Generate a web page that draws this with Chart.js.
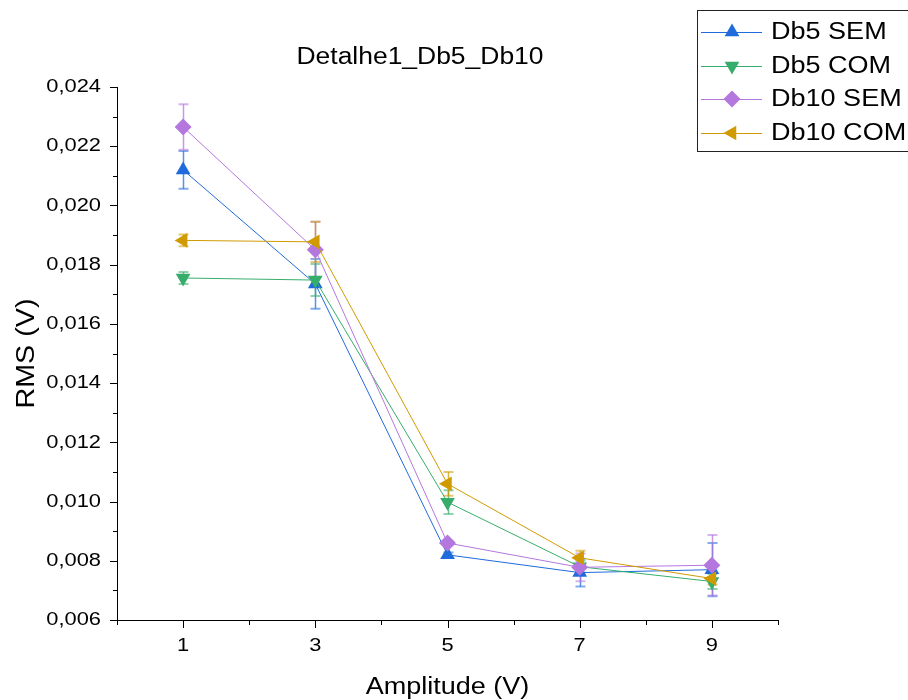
<!DOCTYPE html>
<html>
<head>
<meta charset="utf-8">
<script src="https://cdn.jsdelivr.net/npm/chart.js@4"></script>
<style>
  html, body { margin: 0; padding: 0; background: #fff; }
</style>
</head>
<body>
<canvas id="c" width="908" height="700"></canvas>
<script>
// Amplitude steps (V)
const amplitudes = [1, 3, 5, 7, 9];

// RMS (V) per series, with the half-height of each error bar
const db5Sem      = [0.02120, 0.01735, 0.00820, 0.00760, 0.00770];
const db5SemErr   = [0.00064, 0.00084, 0.00008, 0.00047, 0.00090];
const db5Com      = [0.01755, 0.01748, 0.00998, 0.00780, 0.00730];
const db5ComErr   = [0.00020, 0.00054, 0.00040, 0.00020, 0.00025];
const db10Sem     = [0.02265, 0.01850, 0.00860, 0.00778, 0.00785];
const db10SemErr  = [0.00077, 0.00095, 0.00008, 0.00047, 0.00102];
const db10Com     = [0.01882, 0.01877, 0.01060, 0.00810, 0.00740];
const db10ComErr  = [0.00020, 0.00068, 0.00040, 0.00024, 0.00020];

const seriesNames = ['Db5 SEM', 'Db5 COM', 'Db10 SEM', 'Db10 COM'];

// Axis tick labels
const xTickValues = [1, 3, 5, 7, 9];
const xTickLabels = ['1', '3', '5', '7', '9'];
const yTickValues = [0.006, 0.008, 0.010, 0.012, 0.014, 0.016, 0.018, 0.020, 0.022, 0.024];
const yTickLabels = ['0,006', '0,008', '0,010', '0,012', '0,014', '0,016', '0,018', '0,020', '0,022', '0,024'];

const chartTitle = 'Detalhe1_Db5_Db10';
const xTitle = 'Amplitude (V)';
const yTitle = 'RMS (V)';

const FONT = '"Liberation Sans", Arial, sans-serif';
const SX = 1.15; // horizontal text stretch

function stretchText(ctx, text, x, y, size, align, rot) {
  ctx.save();
  ctx.translate(x, y);
  if (rot) ctx.rotate(rot);
  ctx.scale(SX, 1);
  ctx.font = size + 'px ' + FONT;
  ctx.fillStyle = '#000';
  ctx.textAlign = align || 'center';
  ctx.textBaseline = 'middle';
  ctx.fillText(text, 0, 0);
  ctx.restore();
}

function hexA(hex, a) {
  const n = parseInt(hex.slice(1), 16);
  return `rgba(${(n >> 16) & 255},${(n >> 8) & 255},${n & 255},${a})`;
}

function makeSeries(label, values, errors, color, style, rotation, order) {
  return {
    label,
    data: amplitudes.map((x, i) => ({ x, y: values[i] })),
    errors,
    borderColor: color,
    backgroundColor: color,
    borderWidth: 1,
    pointStyle: style,
    rotation,
    pointRadius: 8.5,
    pointHoverRadius: 8.5,
    pointBorderWidth: 0,
    pointBackgroundColor: color,
    showLine: true,
    tension: 0,
    order
  };
}

const datasets = [
  makeSeries(seriesNames[0], db5Sem,  db5SemErr,  '#1F6BDB', 'triangle', 0,   4),
  makeSeries(seriesNames[1], db5Com,  db5ComErr,  '#37AD6B', 'triangle', 180, 3),
  makeSeries(seriesNames[2], db10Sem, db10SemErr, '#B377DE', 'rectRot',  0,   2),
  makeSeries(seriesNames[3], db10Com, db10ComErr, '#D09B00', 'triangle', 270, 1)
];

// Vertical error bars with caps, drawn under the markers
const errorBars = {
  id: 'errorBars',
  beforeDatasetsDraw(chart) {
    const { ctx } = chart;
    const ys = chart.scales.y;
    chart.data.datasets.forEach((ds, i) => {
      const meta = chart.getDatasetMeta(i);
      ds.errors.forEach((e, j) => {
        const pt = meta.data[j];
        const v = ds.data[j].y;
        const top = ys.getPixelForValue(v + e);
        const bot = ys.getPixelForValue(v - e);
        const px = Math.round(pt.x) + 0.5;
        ctx.save();
        ctx.strokeStyle = hexA(ds.borderColor, 0.75);
        ctx.lineWidth = 1.5;
        ctx.beginPath();
        ctx.moveTo(px, top); ctx.lineTo(px, bot);
        ctx.stroke();
        ctx.strokeStyle = hexA(ds.borderColor, 0.55);
        ctx.lineWidth = 2;
        ctx.beginPath();
        ctx.moveTo(px - 5, top); ctx.lineTo(px + 5, top);
        ctx.moveTo(px - 5, bot); ctx.lineTo(px + 5, bot);
        ctx.stroke();
        ctx.restore();
      });
    });
  }
};

// Tick marks, tick labels, titles and legend
const decor = {
  id: 'decor',
  afterDraw(chart) {
    const { ctx, chartArea: a } = chart;
    const xs = chart.scales.x, ys = chart.scales.y;
    ctx.save();
    ctx.strokeStyle = '#000';
    ctx.lineWidth = 1;
    ctx.beginPath();
    xs.ticks.forEach(t => {
      const px = Math.round(xs.getPixelForValue(t.value)) + 0.5;
      const major = xTickValues.includes(Math.round(t.value));
      ctx.moveTo(px, a.bottom);
      ctx.lineTo(px, a.bottom + (major ? 8 : 5));
    });
    ys.ticks.forEach(t => {
      const py = Math.round(ys.getPixelForValue(t.value)) + 0.5;
      const major = Math.round(t.value * 1000) % 2 === 0;
      ctx.moveTo(a.left, py);
      ctx.lineTo(a.left - (major ? 7 : 4), py);
    });
    ctx.stroke();
    ctx.restore();

    xTickValues.forEach((v, i) => {
      stretchText(ctx, xTickLabels[i], xs.getPixelForValue(v), a.bottom + 26, 19, 'center');
    });
    yTickValues.forEach((v, i) => {
      stretchText(ctx, yTickLabels[i], a.left - 16, ys.getPixelForValue(v), 19, 'right');
    });

    stretchText(ctx, chartTitle, 420, 58, 23, 'center');
    stretchText(ctx, xTitle, (a.left + a.right) / 2, 688, 23.5, 'center');
    stretchText(ctx, yTitle, 27, (a.top + a.bottom) / 2, 25, 'center', -Math.PI / 2);

    // legend
    ctx.save();
    ctx.strokeStyle = '#222';
    ctx.lineWidth = 1;
    ctx.strokeRect(697.5, 10.5, 260, 141);
    const rows = [32, 66, 99, 133];
    chart.data.datasets.forEach((ds, i) => {
      const y = rows[i];
      ctx.strokeStyle = ds.borderColor;
      ctx.lineWidth = 1;
      ctx.beginPath();
      ctx.moveTo(701, y + 0.5); ctx.lineTo(762, y + 0.5);
      ctx.stroke();
      ctx.fillStyle = ds.borderColor;
      Chart.helpers.drawPoint(ctx, {
        pointStyle: ds.pointStyle, rotation: ds.rotation, radius: 8.5, borderWidth: 0
      }, 732, y);
      stretchText(ctx, ds.label, 771, y + 1, 23.5, 'left');
    });
    ctx.restore();
  }
};

new Chart(document.getElementById('c'), {
  type: 'line',
  data: { datasets },
  plugins: [errorBars, decor],
  options: {
    responsive: false,
    animation: false,
    events: [],
    layout: { padding: { top: 87, right: 130, left: 0, bottom: 0 } },
    plugins: { legend: { display: false }, title: { display: false }, tooltip: { enabled: false } },
    scales: {
      x: {
        type: 'linear', min: 0, max: 10,
        ticks: { display: false, stepSize: 1 },
        grid: { display: false },
        border: { display: true, color: '#000', width: 1 },
        afterFit(s) { s.height = 80; }
      },
      y: {
        type: 'linear', min: 0.006, max: 0.024,
        ticks: { display: false, stepSize: 0.001 },
        grid: { display: false },
        border: { display: true, color: '#000', width: 1 },
        afterFit(s) { s.width = 117; }
      }
    },
    elements: { line: { fill: false } }
  }
});
</script>
</body>
</html>
